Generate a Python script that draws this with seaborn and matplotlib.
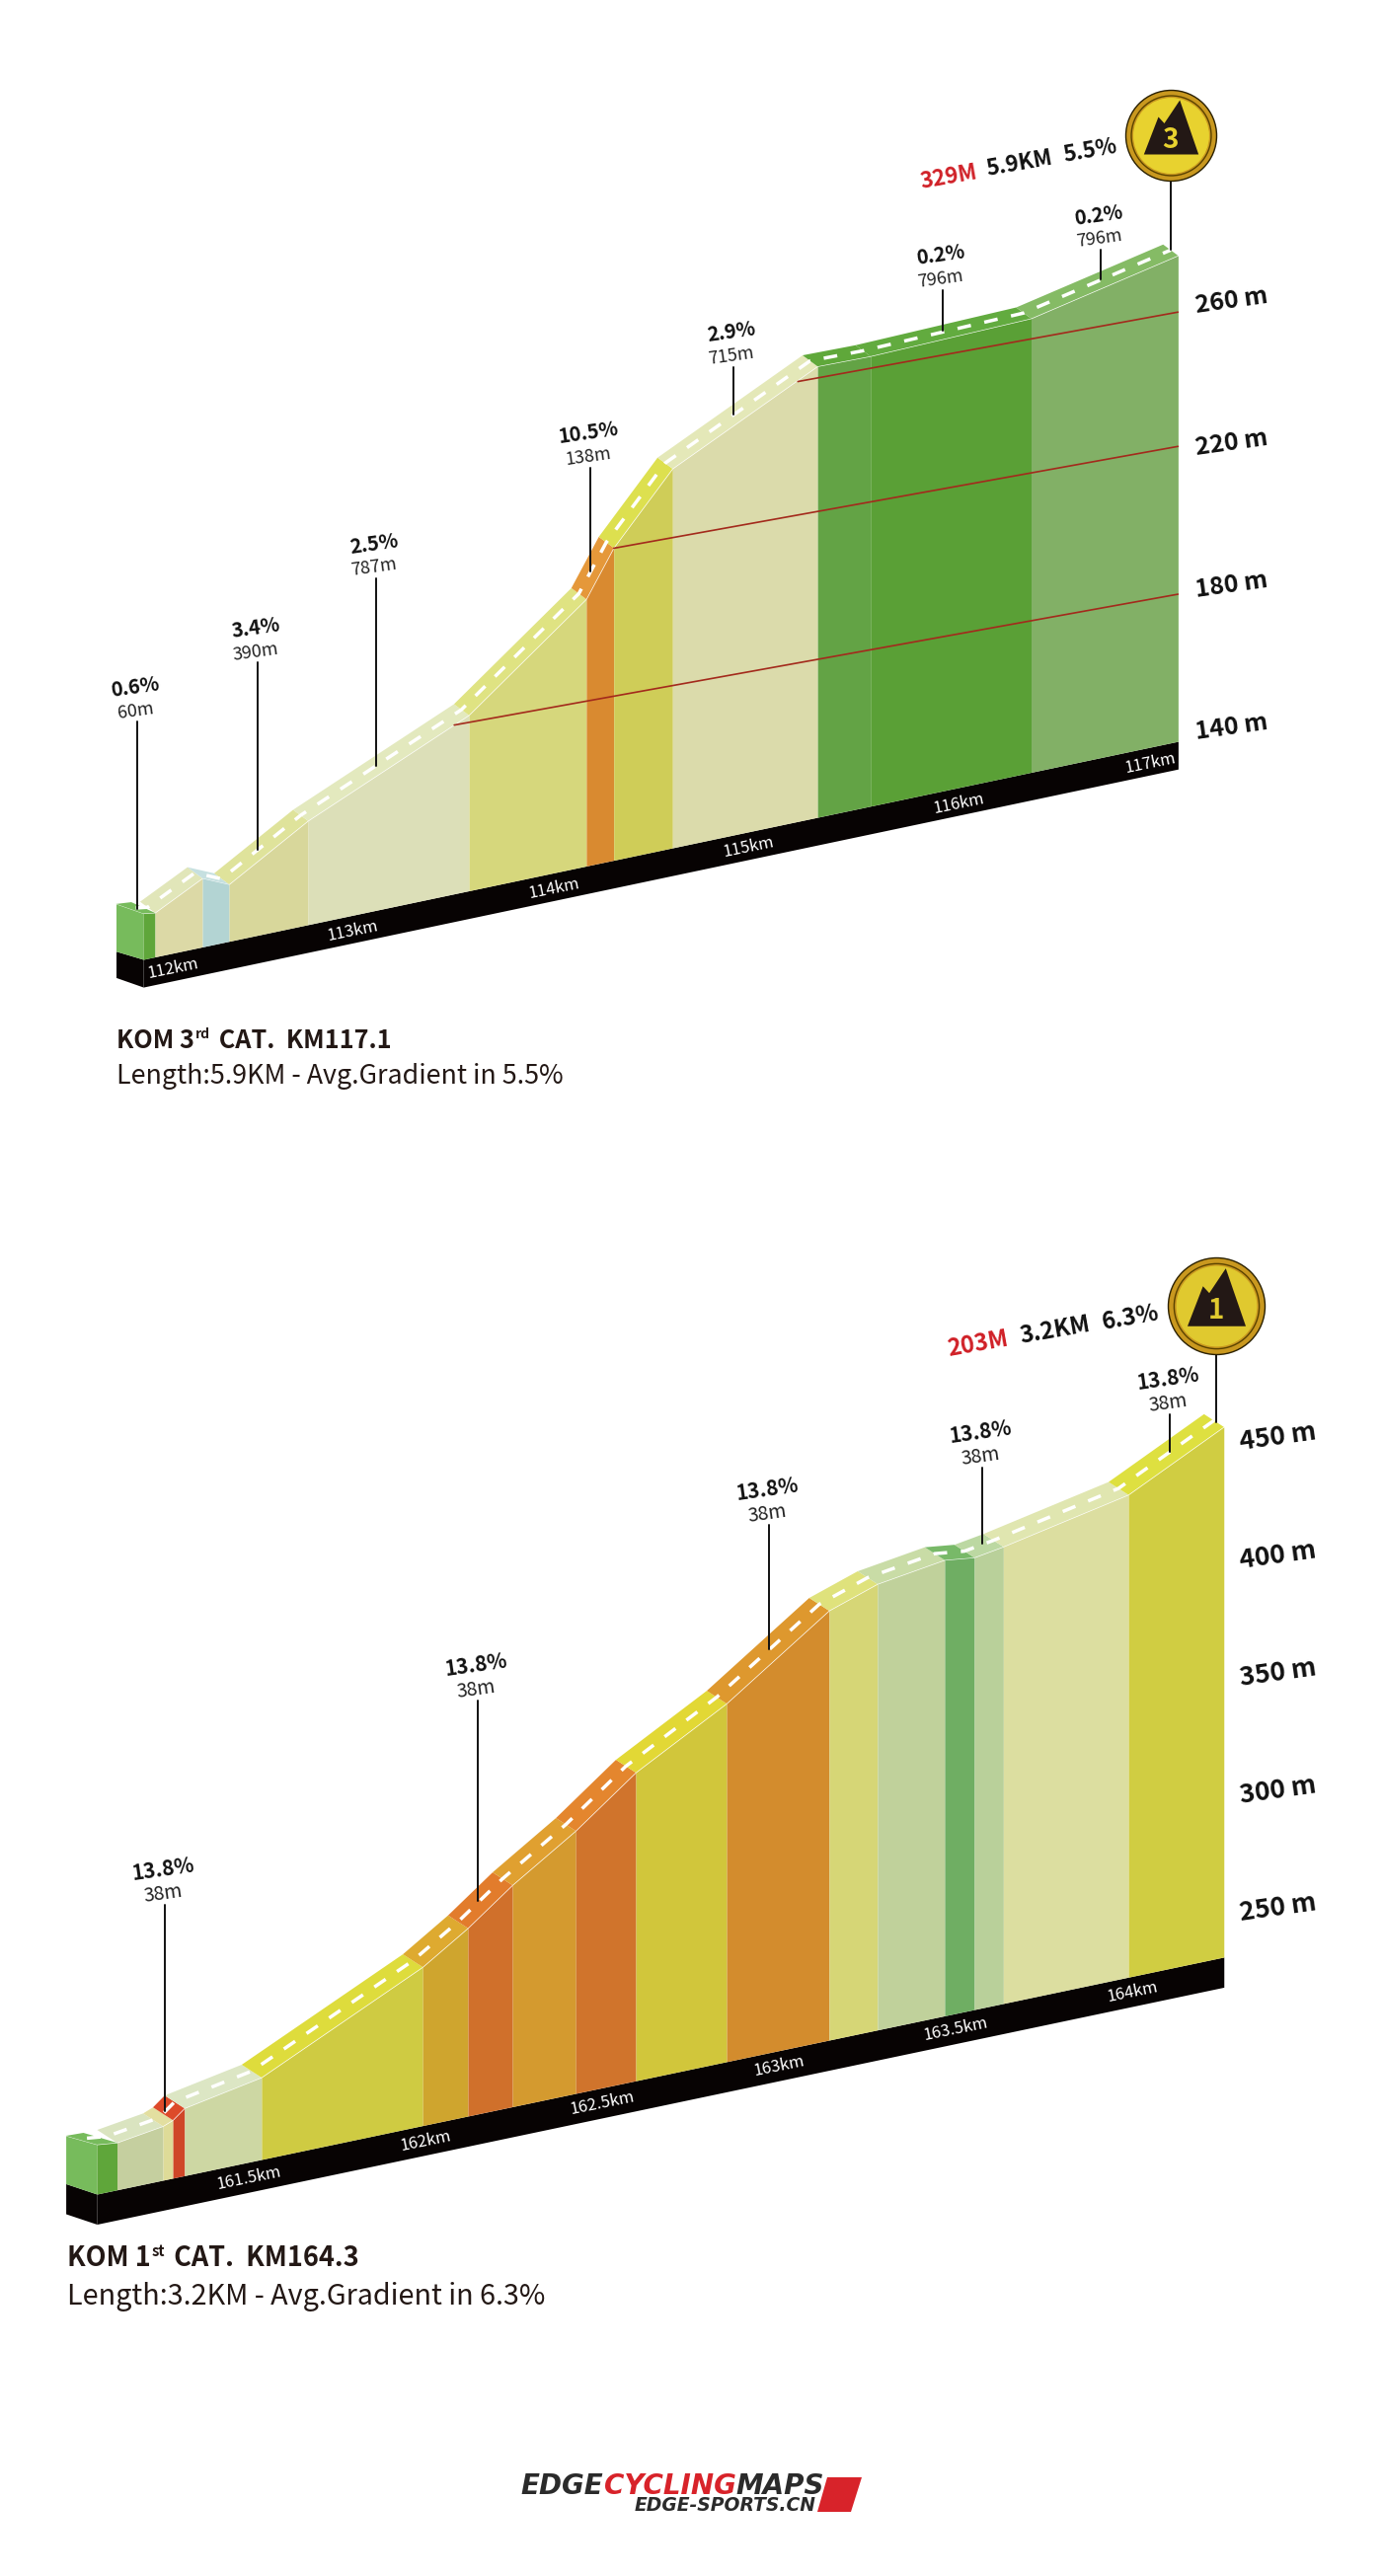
import matplotlib
matplotlib.use("Agg")
import matplotlib.pyplot as plt
import seaborn as sns
from matplotlib.path import Path
from matplotlib.patches import Polygon
from matplotlib.transforms import Affine2D

W, H = 1401, 2610
FONT = ["Noto Sans CJK SC", "DejaVu Sans"]

# --- first climb: KOM 3rd cat ---
kom3_km = [111.909, 112.151, 112.287, 112.690, 113.511, 114.110, 114.250, 114.550, 115.290, 115.560, 116.380, 117.130]
kom3_elev = [152.4, 159.3, 156.0, 169.2, 189.4, 215.1, 227.9, 246.7, 266.9, 266.6, 267.7, 276.7]
kom3_face = ["#dcd9a6", "#b3d4d3", "#d8d79b", "#dcdfb8", "#d6d77c", "#d98a30", "#cfcd58", "#dbdbab", "#63a345", "#5aa036", "#82b066"]
kom3_road = ["#e1e6b9", "#c6e0e0", "#dfe39b", "#e3e9be", "#dfe382", "#e5983a", "#dde04f", "#e4e8b8", "#5fa83a", "#62ab3f", "#85bb65"]
kom3_ticks_km = [112.0, 112.917, 113.945, 114.937, 116.010, 116.987]
kom3_tick_labels = ["112km", "113km", "114km", "115km", "116km", "117km"]
kom3_levels = [140, 180, 220, 260]
kom3_contour_km = [(113.436, 117.130), (114.250, 117.130), (115.190, 117.130)]
kom3_contour_elev = [(187.5, 181.4), (227.8, 223.0), (263.8, 260.8)]
kom3_call_km = [111.819, 112.433, 113.035, 114.131, 114.861, 115.929, 116.736]
kom3_call_low = [154.6, 164.1, 180.7, 222.7, 258.3, 269.4, 274.6]
kom3_call_top = [207.2, 216.7, 233.4, 251.8, 271.7, 280.9, 282.9]
kom3_call_pct = ["0.6%", "3.4%", "2.5%", "10.5%", "2.9%", "0.2%", "0.2%"]
kom3_call_len = ["60m", "390m", "787m", "138m", "715m", "796m", "796m"]

# --- second climb: KOM 1st cat ---
kom1_km = [161.127, 161.257, 161.285, 161.318, 161.536, 161.992, 162.120, 162.246, 162.425, 162.595, 162.852, 163.142, 163.279, 163.469, 163.553, 163.635, 163.989, 164.259]
kom1_elev = [248.0, 250.9, 252.6, 256.6, 262.8, 295.3, 307.8, 322.1, 339.5, 358.9, 380.1, 410.4, 417.4, 421.6, 420.0, 422.0, 432.9, 453.2]
kom1_face = ["#c5cf9f", "#dedb98", "#cf4628", "#cdd7a3", "#cfcb42", "#cfa52e", "#d0702b", "#d49a2f", "#d0742c", "#d1c63b", "#d38c2d", "#d6d676", "#c0d19b", "#6fae63", "#b9d09a", "#dcdea0", "#d0cd42"]
kom1_road = ["#dae4c0", "#e3dfa0", "#dd4a2a", "#dce6c4", "#dedc3c", "#deaa30", "#e27c2c", "#e0a030", "#e4862e", "#e2d835", "#de982e", "#dfe27c", "#c9dca6", "#78b968", "#bcd8a2", "#e0e6b0", "#dee040"]
kom1_ticks_km = [161.5, 162, 162.5, 163, 163.5, 164]
kom1_tick_labels = ["161.5km", "162km", "162.5km", "163km", "163.5km", "164km"]
kom1_levels = [250, 300, 350, 400, 450]
kom1_call_km = [161.262, 162.148, 162.972, 163.575, 164.106]
kom1_call_low = [257.1, 318.6, 399.3, 425.2, 447.5]
kom1_call_top = [344.8, 403.6, 452.2, 457.5, 463.4]
kom1_call_pct = ["13.8%", "13.8%", "13.8%", "13.8%", "13.8%"]
kom1_call_len = ["38m", "38m", "38m", "38m", "38m"]

sns.set_theme(style="white")
plt.rcParams["font.family"] = FONT

fig = plt.figure(figsize=(W / 100, H / 100), dpi=100, facecolor="white")


def px(x, y):
    return x / W, 1 - y / H


def pt(p):
    return p * 0.72


def make_axes(top, bottom, km_at, px_km, ref_km, ref_px, base, px_m, shear):
    ax = fig.add_axes([0, 1 - bottom / H, 1, (bottom - top) / H])
    ax.set_xlim(km_at, km_at + W / px_km)
    ax.set_ylim(base + (ref_px - bottom) / px_m, base + (ref_px - top) / px_m)
    ax.set_axis_off()
    trans = Affine2D.from_values(1, shear, 0, 1, 0, -shear * ref_km) + ax.transData
    return ax, trans


def draw_climb(ax, trans, c):
    km, elev = c["km"], c["elev"]
    dk, de = c["back"]
    base, drop = c["base"], c["drop"]
    lims = ax.get_xlim(), ax.get_ylim()

    # black band under the profile
    ax.fill_between([c["corner"], km[-1]], [base, base], [base - drop, base - drop], color="#070303", lw=0, transform=trans, zorder=1)
    ax.fill_between([c["left"], c["corner"]], [c["side_top"], base], [c["side_low"], base - drop], color="#070303", lw=0, transform=trans, zorder=1)

    # start block
    ax.fill_between([c["left"], c["corner"]], [c["block_back"], c["block_front"]], [c["side_top"], base], color="#77bb5c", lw=0, transform=trans, zorder=2)
    ax.fill_between([c["corner"], km[0]], [c["block_front"], elev[0]], [base, base], color="#5fa63a", lw=0, transform=trans, zorder=2)
    ax.add_patch(Polygon([(c["left"], c["block_back"]), (c["block_mid"], c["block_mid_elev"]), (km[0], elev[0]), (c["corner"], c["block_front"])],
                         closed=True, fc="#77bb5c", lw=0, transform=trans, zorder=2))

    # front faces and road strip
    for i, col in enumerate(c["face"]):
        ax.fill_between(km[i:i + 2], elev[i:i + 2], [base, base], color=col, lw=0, transform=trans, zorder=2)
        strip = [(km[i], elev[i]), (km[i + 1], elev[i + 1]), (km[i + 1] - dk, elev[i + 1] + de), (km[i] - dk, elev[i] + de)]
        ax.add_patch(Polygon(strip, closed=True, fc=c["road"][i], lw=0, transform=trans, zorder=3))

    # contour lines
    for xs, ys in zip(c.get("contour_km", []), c.get("contour_elev", [])):
        sns.lineplot(x=list(xs), y=list(ys), color="#a32a1c", lw=1.2, ax=ax, transform=trans, zorder=4,
                     estimator=None, sort=False, errorbar=None)

    # white road centre dashes
    mid_x = [c["corner"] - dk / 2] + [k - dk / 2 for k in km]
    mid_y = [c["block_front"] + de / 2] + [e + de / 2 for e in elev]
    sns.lineplot(x=mid_x, y=mid_y, color="white", lw=2.5, linestyle=(0, (4, 4)), ax=ax, transform=trans, zorder=5,
                 estimator=None, sort=False, errorbar=None)

    # km labels on the band
    for k, lab in zip(c["ticks"], c["tick_labels"]):
        ax.annotate(lab, (k, base), xycoords=trans, xytext=(0, pt(-c["band_text"])), textcoords="offset points",
                    ha="center", va="center", rotation=c["rot"], rotation_mode="anchor", color="white", fontsize=12, zorder=6)

    # elevation labels to the right
    for lev in c["levels"]:
        ax.annotate(f"{lev} m", (km[-1], lev), xycoords=trans, xytext=(pt(c["level_dx"]), pt(c["level_dy"])), textcoords="offset points",
                    ha="center", va="center", rotation=8, rotation_mode="anchor", color="#111111", fontsize=c["level_size"], fontweight="bold", zorder=6)

    # callouts
    for k, lo, hi, p, l in zip(c["call_km"], c["call_low"], c["call_top"], c["pct"], c["len"]):
        sns.lineplot(x=[k, k], y=[lo, hi], color="#111111", lw=1.4, ax=ax, transform=trans, zorder=6,
                     estimator=None, sort=False, errorbar=None)
        ax.annotate(p, (k, hi), xycoords=trans, xytext=(pt(-2), pt(c["pct_dy"])), textcoords="offset points", ha="center", va="center",
                    rotation=8, rotation_mode="anchor", fontsize=c["pct_size"], fontweight="bold", color="#111111", zorder=6)
        ax.annotate(l, (k, hi), xycoords=trans, xytext=(pt(-2), pt(c["len_dy"])), textcoords="offset points", ha="center", va="center",
                    rotation=8, rotation_mode="anchor", fontsize=c["len_size"], color="#222222", zorder=6)

    # KOM pole and badge
    sns.lineplot(x=[c["kom_km"], c["kom_km"]], y=[c["kom_low"], c["kom_top"]], color="#111111", lw=1.4, ax=ax, transform=trans, zorder=6,
                 estimator=None, sort=False, errorbar=None)
    r = c["badge_r"]
    for rad, col, edge in [(r, "#c9981f", "#2a2000"), (r * 0.88, "#c9981f", "#5a4200"), (r * 0.82, c["badge"], c["badge"])]:
        sns.scatterplot(x=[c["kom_km"]], y=[c["badge_elev"]], s=pt(2 * rad) ** 2, color=col, edgecolor=edge, linewidth=1.0,
                        ax=ax, transform=trans, zorder=7, legend=False)
    verts = [(-27.7, -19), (-13, 19), (-7, 12.5), (8.7, 36), (27.7, -19), (-27.7, -19)]
    mountain = Path(verts, closed=True)
    sns.scatterplot(x=[c["kom_km"]], y=[c["badge_elev"]], s=pt(72 * r / 46) ** 2, color="#231815", edgecolor="#231815", marker=mountain, linewidth=0,
                    ax=ax, transform=trans, zorder=8, legend=False)
    ax.annotate(c["cat"], (c["kom_km"], c["badge_elev"]), xycoords=trans, xytext=(0, pt(-5)), textcoords="offset points",
                ha="center", va="center", fontsize=20, fontweight="bold", color=c["badge"], zorder=9)

    ax.set_xlim(*lims[0])
    ax.set_ylim(*lims[1])
    ax.set_xlabel("")
    ax.set_ylabel("")


def header(items, size):
    for (x, y, txt, col) in items:
        fig.text(*px(x, y), txt, color=col, fontsize=size, fontweight="bold", ha="center", va="center", rotation=10, rotation_mode="anchor")


def title(x, y, a, sup, b, line2, size, size2, gap):
    r = fig.canvas.get_renderer()
    t = fig.text(*px(x, y), a, fontsize=size, fontweight="bold", color="#231815", va="baseline")
    x2 = x + t.get_window_extent(r).width + 1
    t = fig.text(*px(x2, y - 10), sup, fontsize=size * 0.55, fontweight="bold", color="#231815", va="baseline")
    x3 = x2 + t.get_window_extent(r).width + 3
    fig.text(*px(x3, y), b, fontsize=size, fontweight="bold", color="#231815", va="baseline")
    fig.text(*px(x, y + gap), line2, fontsize=size2, color="#231815", va="baseline")


ax1, tr1 = make_axes(0, 1200, 111.118, 198.5, 111.849, 972, 140, 3.6, 11.62)
draw_climb(ax1, tr1, dict(
    km=kom3_km, elev=kom3_elev, face=kom3_face, road=kom3_road, back=(0.076, 4.0), base=140, drop=7.8,
    corner=111.849, left=111.710, side_top=143.9, side_low=136.5,
    block_back=157.2, block_front=152.9, block_mid=111.788, block_mid_elev=156.8,
    contour_km=kom3_contour_km, contour_elev=kom3_contour_elev,
    ticks=kom3_ticks_km, tick_labels=kom3_tick_labels, band_text=16, rot=11.5,
    levels=kom3_levels, level_dx=54, level_dy=14, level_size=18,
    call_km=kom3_call_km, call_low=kom3_call_low, call_top=kom3_call_top, pct=kom3_call_pct, len=kom3_call_len,
    pct_dy=35.5, len_dy=11, pct_size=14.5, len_size=13,
    kom_km=117.091, kom_low=278.8, kom_top=298.5, badge_elev=310.9, badge_r=46, badge="#e8d22f", cat="3",
))

ax2, tr2 = make_axes(1200, 2450, 160.796, 358, 161.070, 2223, 228, 2.385, 31.57)
draw_climb(ax2, tr2, dict(
    km=kom1_km, elev=kom1_elev, face=kom1_face, road=kom1_road, back=(0.056, 7.2), base=228, drop=12.8,
    corner=161.070, left=160.982, side_top=235.2, side_low=222.4,
    block_back=255.5, block_front=249.0, block_mid=161.032, block_mid_elev=255.2,
    ticks=kom1_ticks_km, tick_labels=kom1_tick_labels, band_text=16, rot=11.5,
    levels=kom1_levels, level_dx=55, level_dy=-3, level_size=19,
    call_km=kom1_call_km, call_low=kom1_call_low, call_top=kom1_call_top, pct=kom1_call_pct, len=kom1_call_len,
    pct_dy=36, len_dy=11, pct_size=15, len_size=14,
    kom_km=164.238, kom_low=455.9, kom_top=484.7, badge_elev=505.3, badge_r=49, badge="#e0c92f", cat="1",
))

header([(961, 180, "329M", "#d01f26"), (1033, 166, "5.9KM", "#111111"), (1104, 153, "5.5%", "#111111")], 16)
header([(990.5, 1362, "203M", "#d01f26"), (1068.6, 1347.6, "3.2KM", "#111111"), (1145, 1335, "6.3%", "#111111")], 17)

title(118, 1062, "KOM 3", "rd", " CAT.  KM117.1", "Length:5.9KM - Avg.Gradient in 5.5%", 18.2, 19.3, 36)
title(68, 2296, "KOM 1", "st", " CAT.  KM164.3", "Length:3.2KM - Avg.Gradient in 6.3%", 19.5, 20.7, 39)

# logo
logo = dict(fontsize=20, fontweight="bold", style="oblique", family="DejaVu Sans", va="center", ha="left")
fig.text(*px(527, 2519), "EDGE", color="#2b2b2b", **logo)
fig.text(*px(612, 2519), "CYCLING", color="#d8232a", **logo)
fig.text(*px(745, 2519), "MAPS", color="#2b2b2b", **logo)
fig.text(*px(643, 2539), "EDGE-SPORTS.CN", color="#2b2b2b", fontsize=13.5, fontweight="bold", style="oblique", family="DejaVu Sans", va="center", ha="left")
shape = [(838, 2510), (873, 2510), (862, 2545), (828, 2545)]
fig.add_artist(Polygon([px(*p) for p in shape], closed=True, fc="#d8232a", lw=0, transform=fig.transFigure))

fig.savefig("out.png", dpi=100, facecolor="white")
